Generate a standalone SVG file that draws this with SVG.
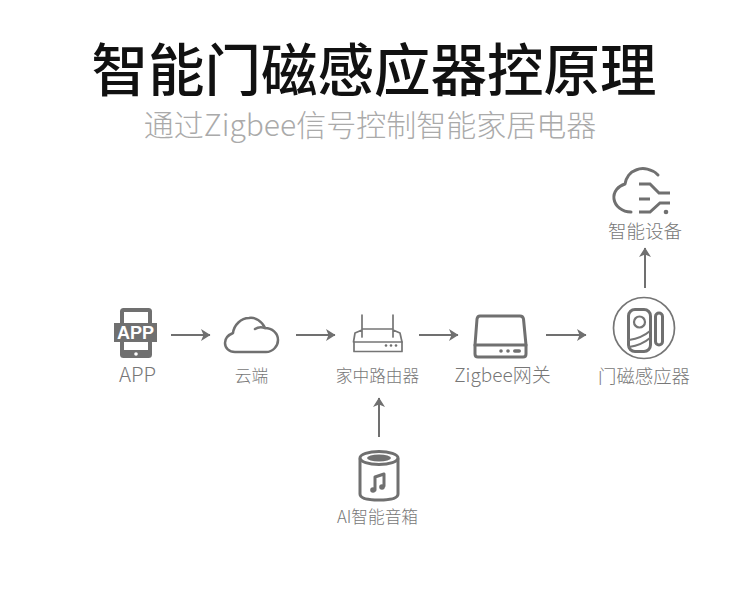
<svg xmlns="http://www.w3.org/2000/svg" width="750" height="592" viewBox="0 0 750 592">
<style>
text{font-family:"Noto Sans CJK SC","Noto Sans",sans-serif;text-anchor:middle}
.lb{fill:#777;font-size:16.700px;font-weight:300}
.s{fill:none;stroke:#757575;stroke-width:1.700;stroke-linecap:round;stroke-linejoin:round}
.t{fill:none;stroke:#707070;stroke-width:3;stroke-linecap:round;stroke-linejoin:round}
.f{fill:#707070}
.c{fill:none;stroke:#707070;stroke-width:2}
</style>
<defs><marker id="a" markerUnits="userSpaceOnUse" markerWidth="10" markerHeight="12" refX="9" refY="6" orient="auto"><path d="M0 0L9.500 6L0 12L2.500 6Z" fill="#707070"/></marker></defs>
<rect width="750" height="592" fill="#fff"/>
<text id="title" x="374" y="91" font-size="56.500" font-weight="500" fill="#111">智能门磁感应器控原理</text>
<text id="subtitle" x="370" y="136" font-size="30" font-weight="300" fill="#aaa">通过Zigbee信号控制智能家居电器</text>
<g id="connectors">
<path class="c" marker-end="url(#a)" d="M171 335H210"/>
<path class="c" marker-end="url(#a)" d="M296 335H335"/>
<path class="c" marker-end="url(#a)" d="M419 335H458"/>
<path class="c" marker-end="url(#a)" d="M546 335H586"/>
<path class="c" marker-end="url(#a)" d="M645 288V248"/>
<path class="c" marker-end="url(#a)" d="M379 437V398"/>
</g>
<g id="app">
<rect class="f" x="120" y="308" width="32" height="50" rx="3.500"/>
<rect x="124" y="312" width="24" height="38" fill="#fff"/>
<rect class="f" x="114" y="323" width="43" height="19"/>
<circle cx="136" cy="354" r="1.800" fill="#fff"/>
<text x="135.500" y="339" font-size="18" font-weight="700" fill="#fff" style="font-family:'Liberation Sans',sans-serif">APP</text>
<text class="lb" x="137.500" y="382" style="font-size:20.500px">APP</text>
</g>
<g id="cloud">
<path class="t" style="stroke-width:2.500" d="M235 352H266C273 352 278 346 278 340C278 333 272 328 265 328C262 321 255 317 249 318C241 318 234 325 233 333C228 335 225 338 225 343C225 348 229 352 235 352Z"/>
<path class="s" style="stroke-width:2.500" d="M255 329C258 327 262 327 265 328"/>
<text class="lb" x="251.500" y="382">云端</text>
</g>
<g id="router">
<path class="s" d="M362 315V337M393 315V337M362 329H393M362 330L355 333L353.500 342H402L400 333L393 330"/>
<path class="s" d="M354 342V351.500H402V342"/>
<circle class="f" cx="386" cy="345.500" r="1.300"/><circle class="f" cx="391" cy="345.500" r="1.300"/><circle class="f" cx="396" cy="345.500" r="1.300"/>
<text class="lb" x="377.500" y="382">家中路由器</text>
</g>
<g id="gateway">
<path class="t" d="M480 316H520Q523 316 523.500 319L526 345V354Q526 357 523 357H478Q475 357 475 354V345L477 319Q477.500 316 480 316Z"/>
<path class="t" d="M475 345H526"/>
<circle class="f" cx="501" cy="351" r="1.800"/><circle class="f" cx="508" cy="351" r="1.800"/><rect class="f" x="513" y="349.200" width="8" height="3.600" rx="1.800"/>
<text class="lb" x="502.500" y="382" style="font-size:19px">Zigbee网关</text>
</g>
<g id="sensor">
<circle class="s" cx="644" cy="328" r="30.500"/>
<rect class="t" x="628.500" y="309.500" width="22" height="42" rx="6.500"/>
<circle class="s" cx="639.500" cy="322" r="5.500" style="stroke-width:2.200"/>
<path class="s" style="stroke-width:2" d="M629 340Q642 338 650 331M629 347Q642 345 650 338"/>
<rect class="t" x="655.500" y="313" width="7" height="32" rx="3.500"/>
<text class="lb" x="644" y="383" style="font-size:18.400px">门磁感应器</text>
</g>
<g id="smart">
<path class="t" d="M658 175C652 169 643 167 636 170C630 172 626 178 625 184C618 186 613 192 614 199C615 206 622 212 631 212"/>
<path class="t" style="stroke-linecap:butt;stroke-linejoin:miter" d="M639 184H650L659 193H670M639 199H650M639 212H650L660 203H670"/>
<circle class="f" cx="666" cy="212" r="2.300"/>
<text class="lb" x="645" y="238" style="font-size:18.500px">智能设备</text>
</g>
<g id="speaker">
<path class="t" d="M360 459V494Q360 500 379 500Q398 500 398 494V459"/>
<ellipse class="t" cx="379" cy="458" rx="19" ry="6.500"/>
<ellipse class="f" cx="379" cy="458" rx="12" ry="3.500"/>
<path class="t" d="M375 490V477L384 474V486"/>
<circle class="f" cx="373" cy="490" r="2.800"/><circle class="f" cx="382" cy="487" r="2.800"/>
<text class="lb" x="377.500" y="523">AI智能音箱</text>
</g>
</svg>
